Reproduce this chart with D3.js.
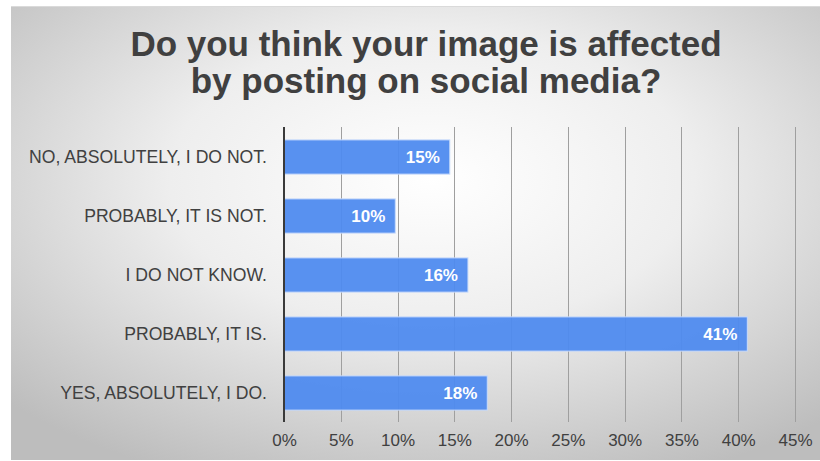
<!DOCTYPE html>
<html>
<head>
<meta charset="utf-8">
<script src="https://cdn.jsdelivr.net/npm/d3@7"></script>
<style>
  html, body { margin: 0; padding: 0; background: #ffffff; }
  svg { display: block; font-family: "Liberation Sans", Arial, sans-serif; }
</style>
</head>
<body>
<svg id="chart" width="820" height="461"></svg>
<script>
const titleLines = ["Do you think your image is affected", "by posting on social media?"];
const categories = [
  "NO, ABSOLUTELY, I DO NOT.",
  "PROBABLY, IT IS NOT.",
  "I DO NOT KNOW.",
  "PROBABLY, IT IS.",
  "YES, ABSOLUTELY, I DO."
];
const values = [14.6, 9.8, 16.2, 40.8, 17.9];
const valueLabels = ["15%", "10%", "16%", "41%", "18%"];
const tickValues = [0, 5, 10, 15, 20, 25, 30, 35, 40, 45];

const svg = d3.select("#chart");
const defs = svg.append("defs");
const grad = defs.append("radialGradient")
  .attr("id", "bg").attr("cx", "52%").attr("cy", "38%").attr("r", "72%");
grad.append("stop").attr("offset", "0%").attr("stop-color", "#ffffff");
grad.append("stop").attr("offset", "45%").attr("stop-color", "#eeeeee");
grad.append("stop").attr("offset", "100%").attr("stop-color", "#bdbdbd");

// chart frame
svg.append("rect").attr("x", 11).attr("y", 6).attr("width", 809).attr("height", 454)
  .attr("fill", "url(#bg)");
svg.append("line").attr("x1", 11).attr("x2", 820).attr("y1", 6.5).attr("y2", 6.5)
  .attr("stroke", "#dadada").attr("stroke-width", 1);

// title
svg.append("g").selectAll("text").data(titleLines).join("text")
  .attr("x", 426).attr("y", (d, i) => 56 + i * 37)
  .attr("text-anchor", "middle")
  .attr("font-size", 35).attr("font-weight", "bold").attr("fill", "#404040")
  .text(d => d);

const x = d3.scaleLinear().domain([0, 45]).range([284, 795]);
const y = d3.scaleBand().domain(categories).range([127.5, 422.5]).paddingInner(0.42).paddingOuter(0.21);

// gridlines
svg.append("g").selectAll("line").data(tickValues.slice(1)).join("line")
  .attr("x1", d => Math.round(x(d)) + 0.5).attr("x2", d => Math.round(x(d)) + 0.5)
  .attr("y1", 127).attr("y2", 422)
  .attr("stroke", "#9f9f9f").attr("stroke-width", 1);

// bars
svg.append("g").selectAll("rect").data(values).join("rect")
  .attr("x", x(0))
  .attr("y", (d, i) => y(categories[i]))
  .attr("width", d => x(d) - x(0))
  .attr("height", y.bandwidth())
  .attr("fill", "#4f8bef").attr("fill-opacity", 0.95)
  .attr("stroke", "#c9dcfb").attr("stroke-width", 1);

// value labels
svg.append("g").selectAll("text").data(values).join("text")
  .attr("x", d => x(d) - 10)
  .attr("y", (d, i) => y(categories[i]) + y.bandwidth() / 2 + 6)
  .attr("text-anchor", "end")
  .attr("font-size", 17).attr("font-weight", "bold").attr("fill", "#ffffff")
  .text((d, i) => valueLabels[i]);

// y axis
const yAxis = svg.append("g").attr("transform", `translate(${x(0)},0)`)
  .call(d3.axisLeft(y).tickSize(0).tickPadding(17));
yAxis.select(".domain").attr("stroke", "#3a3a3a").attr("stroke-width", 2)
  .attr("d", "M0,127V422");
yAxis.selectAll("text")
  .attr("font-size", 17.6).attr("fill", "#404040").attr("font-family", "Liberation Sans, Arial, sans-serif")
  .attr("dy", "0.36em");

// x axis labels
const xAxis = svg.append("g").attr("transform", "translate(0,422)")
  .call(d3.axisBottom(x).tickValues(tickValues).tickFormat(d => d + "%").tickSize(0).tickPadding(12));
xAxis.select(".domain").remove();
xAxis.selectAll("text")
  .attr("font-size", 17).attr("fill", "#404040").attr("font-family", "Liberation Sans, Arial, sans-serif");
</script>
</body>
</html>
